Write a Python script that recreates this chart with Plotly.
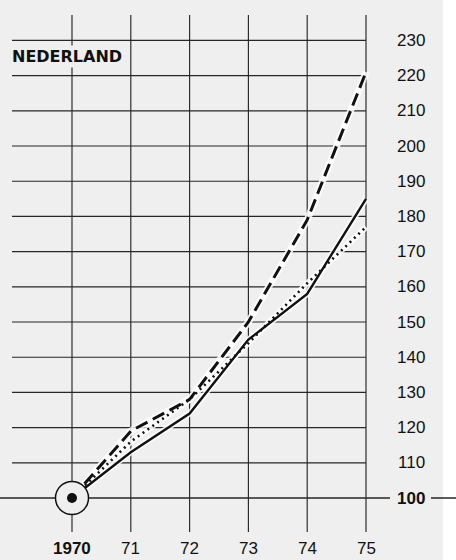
import plotly.graph_objects as go

years = [1970, 1971, 1972, 1973, 1974, 1975]
x_labels = ["1970", "71", "72", "73", "74", "75"]
y_ticks = [100, 110, 120, 130, 140, 150, 160, 170, 180, 190, 200, 210, 220, 230]
solid = [100, 113, 124, 145, 158, 185]
dashed = [100, 119, 128, 150, 179, 221]
dotted = [100, 116, 128, 144, 161, 177]
title = "NEDERLAND"

W, H = 456, 560
# pixel mapping helpers (px per unit)
x0_px, x_per = 72, 58.8
y0_px, y_per = 498, 3.52
xr = [1970 - x0_px / x_per, 1970 + (W - x0_px) / x_per]
yr = [100 - (H - y0_px) / y_per, 100 + y0_px / y_per]

def xpx(p):
    return xr[0] + p / x_per

def ypx(p):
    return 100 + (y0_px - p) / y_per

BG = "#efefef"
GRID = "#262626"

fig = go.Figure()
shapes = []
# white strip at right
shapes.append(dict(type="rect", xref="x", yref="y", x0=xpx(443), x1=xr[1], y0=yr[0], y1=yr[1],
                   fillcolor="white", line=dict(width=0), layer="below"))
# horizontal grid
for v in y_ticks[1:]:
    shapes.append(dict(type="line", xref="x", yref="y", x0=xpx(12), x1=1975, y0=v, y1=v,
                       line=dict(color=GRID, width=1.15), layer="below"))
# 100 base line
shapes.append(dict(type="line", xref="x", yref="y", x0=xr[0], x1=xpx(390), y0=100, y1=100,
                   line=dict(color=GRID, width=1.5), layer="below"))
shapes.append(dict(type="line", xref="x", yref="y", x0=xpx(431), x1=xr[1], y0=100, y1=100,
                   line=dict(color=GRID, width=1.5), layer="below"))
# vertical grid
for yv in years:
    shapes.append(dict(type="line", xref="x", yref="y", x0=yv, x1=yv, y0=ypx(532), y1=ypx(15),
                       line=dict(color=GRID, width=1.15), layer="below"))

# white halos
for ys, wd in [(dashed, 7), (dotted, 6), (solid, 6)]:
    fig.add_trace(go.Scatter(x=years, y=ys, mode="lines", line=dict(color="rgba(255,255,255,0.85)", width=wd),
                             hoverinfo="skip", showlegend=False))

fig.add_trace(go.Scatter(x=years, y=dotted, mode="lines", line=dict(color="#111", width=2.6, dash="2px,4px"),
                         showlegend=False))
fig.add_trace(go.Scatter(x=years, y=solid, mode="lines", line=dict(color="#111", width=2.4),
                         showlegend=False))
fig.add_trace(go.Scatter(x=years, y=dashed, mode="lines", line=dict(color="#111", width=3, dash="13px,6px"),
                         showlegend=False))
# circle marker at origin
fig.add_trace(go.Scatter(x=[years[0]], y=[solid[0]], mode="markers",
                         marker=dict(size=33, color=BG, line=dict(color="#111", width=1.5)),
                         showlegend=False))
fig.add_trace(go.Scatter(x=[years[0]], y=[solid[0]], mode="markers",
                         marker=dict(size=10, color="#111"), showlegend=False))

ann = []
for v in y_ticks:
    ann.append(dict(x=xpx(411), y=v, xref="x", yref="y", text=("<b>%d</b>" % v) if v == 100 else str(v),
                    showarrow=False, xanchor="center", yanchor="middle",
                    font=dict(family="Liberation Sans, Arial", size=17, color="#111"),
                    bgcolor=BG if v != 100 else None))
for yv, lab in zip(years, x_labels):
    ann.append(dict(x=yv, y=ypx(548), xref="x", yref="y", text=("<b>%s</b>" % lab) if lab == "1970" else lab,
                    showarrow=False, xanchor="center", yanchor="middle",
                    font=dict(family="Liberation Sans, Arial", size=17, color="#111")))
ann.append(dict(x=xpx(10), y=ypx(56), xref="x", yref="y", text="<b>%s</b>" % title, showarrow=False,
                xanchor="left", yanchor="middle", bgcolor=BG,
                font=dict(family="DejaVu Sans", size=16, color="#111")))

fig.update_layout(
    width=W, height=H, margin=dict(l=0, r=0, t=0, b=0),
    paper_bgcolor=BG, plot_bgcolor=BG,
    xaxis=dict(range=xr, visible=False, fixedrange=True),
    yaxis=dict(range=yr, visible=False, fixedrange=True),
    shapes=shapes, annotations=ann, showlegend=False,
)
fig.write_html("out.html", config={"displayModeBar": False},
               post_script="document.body.style.margin='0px';document.body.style.overflow='hidden';")
